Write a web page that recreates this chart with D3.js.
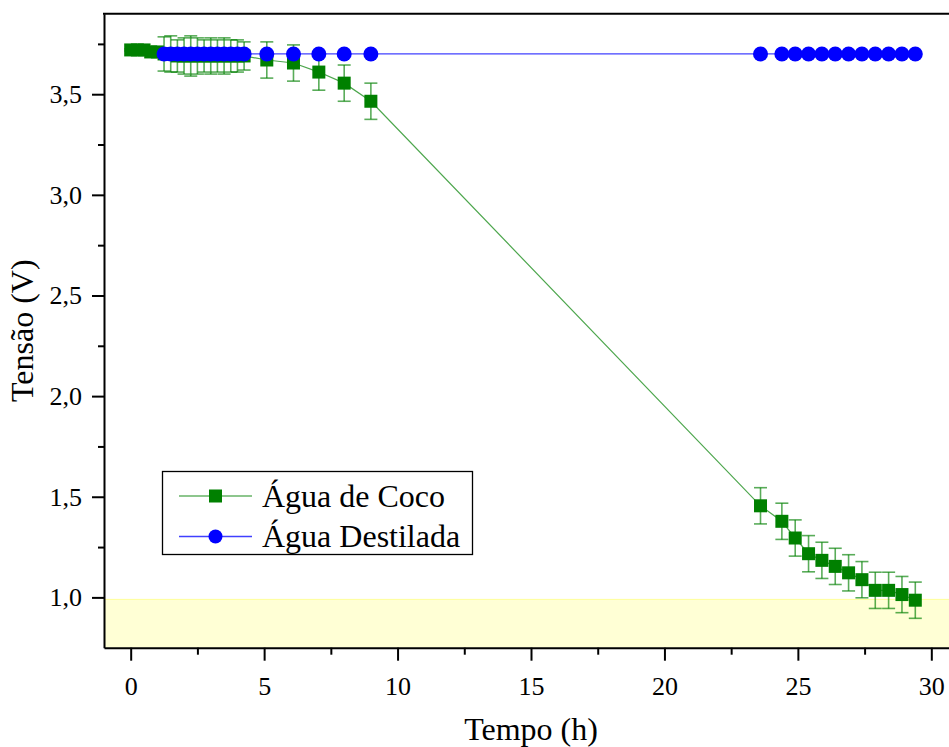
<!DOCTYPE html>
<html>
<head>
<meta charset="utf-8">
<script src="https://d3js.org/d3.v7.min.js"></script>
<style>
	body { margin: 0; background: white; }
	svg text { font-family: "Liberation Serif", "Times New Roman", serif !important; fill: black; }
</style>
</head>
<body>
<div id="chart"></div>
<script>
var cocoTime = [0, 0.25, 0.5, 0.75, 1.0, 1.25, 1.5, 1.75, 2.0, 2.25, 2.5, 2.75, 3.0, 3.25, 3.5, 3.75, 4.0, 4.25,
	5.1, 6.1, 7.05, 8.0, 9.0, 23.6, 24.4, 24.9, 25.4, 25.9, 26.4, 26.9, 27.4, 27.9, 28.4, 28.9, 29.4];
var cocoVolt = [3.72, 3.72, 3.72, 3.71, 3.71, 3.70, 3.70, 3.69, 3.69, 3.69, 3.69, 3.69, 3.69, 3.69, 3.69, 3.69, 3.69, 3.69,
	3.67, 3.655, 3.61, 3.555, 3.465, 1.455, 1.378, 1.295, 1.217, 1.184, 1.154, 1.122, 1.088, 1.035, 1.035, 1.014, 0.986];
var cocoErr = [0.005, 0.005, 0.005, 0.005, 0.01, 0.085, 0.09, 0.08, 0.09, 0.1, 0.09, 0.08, 0.09, 0.08, 0.09, 0.08, 0.08, 0.07,
	0.09, 0.09, 0.09, 0.09, 0.09, 0.09, 0.09, 0.09, 0.09, 0.09, 0.09, 0.09, 0.09, 0.09, 0.09, 0.09, 0.09];

var destTime = [1.25, 1.5, 1.75, 2.0, 2.25, 2.5, 2.75, 3.0, 3.25, 3.5, 3.75, 4.0, 4.25,
	5.1, 6.1, 7.05, 8.0, 9.0, 23.6, 24.4, 24.9, 25.4, 25.9, 26.4, 26.9, 27.4, 27.9, 28.4, 28.9, 29.4];
var destVolt = [3.70, 3.70, 3.70, 3.70, 3.70, 3.70, 3.70, 3.70, 3.70, 3.70, 3.70, 3.70, 3.70,
	3.70, 3.70, 3.70, 3.70, 3.70, 3.70, 3.70, 3.70, 3.70, 3.70, 3.70, 3.70, 3.70, 3.70, 3.70, 3.70, 3.70];

var xTicks = [0, 5, 10, 15, 20, 25, 30];
var xMinor = [2.5, 7.5, 12.5, 17.5, 22.5, 27.5];
var yTicks = [1.0, 1.5, 2.0, 2.5, 3.0, 3.5];
var yMinor = [1.25, 1.75, 2.25, 2.75, 3.25, 3.75];
var seriesNames = ['Água de Coco', 'Água Destilada'];
var limitVolt = 0.99;

var width = 949, height = 747;
var serif = '"Liberation Serif", "Times New Roman", serif';
var svg = d3.select('#chart').append('svg').attr('width', width).attr('height', height);

var x = d3.scaleLinear().domain([-1, 31]).range([104, 958]);
var y = d3.scaleLinear().domain([0.75, 3.9]).range([647.7, 13.7]);

// yellow band under the 1 V limit
svg.append('rect')
	.attr('x', x(-1)).attr('y', y(limitVolt))
	.attr('width', x(31) - x(-1)).attr('height', y(0.75) - y(limitVolt))
	.attr('fill', '#ffffd5');
svg.append('line')
	.attr('x1', x(-1)).attr('x2', x(31)).attr('y1', y(limitVolt)).attr('y2', y(limitVolt))
	.attr('stroke', '#ffff9a').attr('stroke-width', 1);

// axes
var fmtY = function(d) { return d.toFixed(1).replace('.', ','); };

var gx = svg.append('g').attr('transform', 'translate(0,' + y(0.75) + ')');
gx.call(d3.axisBottom(x).tickValues(xTicks).tickFormat(d3.format('d')).tickSize(13).tickSizeOuter(0).tickPadding(16));
gx.append('g').call(d3.axisBottom(x).tickValues(xMinor).tickFormat('').tickSize(7).tickSizeOuter(0))
	.select('.domain').remove();

var gy = svg.append('g').attr('transform', 'translate(' + x(-1) + ',0)');
gy.call(d3.axisLeft(y).tickValues(yTicks).tickFormat(fmtY).tickSize(12).tickSizeOuter(0).tickPadding(10));
gy.append('g').call(d3.axisLeft(y).tickValues(yMinor).tickFormat('').tickSize(6).tickSizeOuter(0))
	.select('.domain').remove();

gx.attr('font-family', serif).attr('font-size', 26);
gy.attr('font-family', serif).attr('font-size', 26);
svg.selectAll('.domain, .tick line').attr('stroke', 'black').attr('stroke-width', 2);
svg.selectAll('.tick text').style('font-family', serif).style('font-size', '26px');

// top frame
svg.append('line')
	.attr('x1', x(-1) - 1).attr('x2', x(31)).attr('y1', y(3.9)).attr('y2', y(3.9))
	.attr('stroke', 'black').attr('stroke-width', 2);

// axis titles
svg.append('text').attr('x', (x(-1) + x(31)) / 2).attr('y', 740)
	.attr('text-anchor', 'middle').attr('font-size', 32).text('Tempo (h)');
svg.append('text')
	.attr('transform', 'translate(33,' + ((y(0.75) + y(3.9)) / 2) + ') rotate(-90)')
	.attr('text-anchor', 'middle').attr('font-size', 32).text('Tensão (V)');

var coco = cocoTime.map(function(t, i) { return {t: t, v: cocoVolt[i], e: cocoErr[i]}; });
var dest = destTime.map(function(t, i) { return {t: t, v: destVolt[i]}; });

var line = d3.line().x(function(d) { return x(d.t); }).y(function(d) { return y(d.v); });

// Agua de Coco
svg.append('path').datum(coco).attr('d', line)
	.attr('fill', 'none').attr('stroke', '#008000').attr('stroke-opacity', 0.7).attr('stroke-width', 1.2);

var eb = svg.append('g').attr('stroke', '#008000').attr('stroke-opacity', 0.65).attr('stroke-width', 1.6);
eb.selectAll('line.v').data(coco).enter().append('line').attr('class', 'v')
	.attr('x1', function(d) { return x(d.t); }).attr('x2', function(d) { return x(d.t); })
	.attr('y1', function(d) { return y(d.v + d.e); }).attr('y2', function(d) { return y(d.v - d.e); });
eb.selectAll('line.top').data(coco).enter().append('line').attr('class', 'top')
	.attr('x1', function(d) { return x(d.t) - 6.5; }).attr('x2', function(d) { return x(d.t) + 6.5; })
	.attr('y1', function(d) { return y(d.v + d.e); }).attr('y2', function(d) { return y(d.v + d.e); });
eb.selectAll('line.bot').data(coco).enter().append('line').attr('class', 'bot')
	.attr('x1', function(d) { return x(d.t) - 6.5; }).attr('x2', function(d) { return x(d.t) + 6.5; })
	.attr('y1', function(d) { return y(d.v - d.e); }).attr('y2', function(d) { return y(d.v - d.e); });

svg.append('g').selectAll('rect').data(coco).enter().append('rect')
	.attr('x', function(d) { return x(d.t) - 6.5; }).attr('y', function(d) { return y(d.v) - 6.5; })
	.attr('width', 13).attr('height', 13).attr('fill', '#008000');

// Agua Destilada
svg.append('path').datum(dest).attr('d', line)
	.attr('fill', 'none').attr('stroke', '#0000ff').attr('stroke-opacity', 0.75).attr('stroke-width', 1.2);
svg.append('g').selectAll('circle').data(dest).enter().append('circle')
	.attr('cx', function(d) { return x(d.t); }).attr('cy', function(d) { return y(d.v); })
	.attr('r', 7.5).attr('fill', '#0000ff');

// legend
var lg = svg.append('g');
lg.append('rect').attr('x', 162.5).attr('y', 471.5).attr('width', 310).attr('height', 83)
	.attr('fill', 'white').attr('stroke', 'black').attr('stroke-width', 1.3);

lg.append('line').attr('x1', 179).attr('x2', 252).attr('y1', 496).attr('y2', 496)
	.attr('stroke', '#008000').attr('stroke-opacity', 0.6).attr('stroke-width', 1.5);
lg.append('rect').attr('x', 209).attr('y', 489.5).attr('width', 13).attr('height', 13).attr('fill', '#008000');
lg.append('text').attr('x', 262).attr('y', 507).attr('font-size', 32).text(seriesNames[0]);

lg.append('line').attr('x1', 179).attr('x2', 252).attr('y1', 536.5).attr('y2', 536.5)
	.attr('stroke', '#0000ff').attr('stroke-opacity', 0.75).attr('stroke-width', 1.5);
lg.append('circle').attr('cx', 215.5).attr('cy', 536.5).attr('r', 7).attr('fill', '#0000ff');
lg.append('text').attr('x', 262).attr('y', 547).attr('font-size', 32).text(seriesNames[1]);
</script>
</body>
</html>
